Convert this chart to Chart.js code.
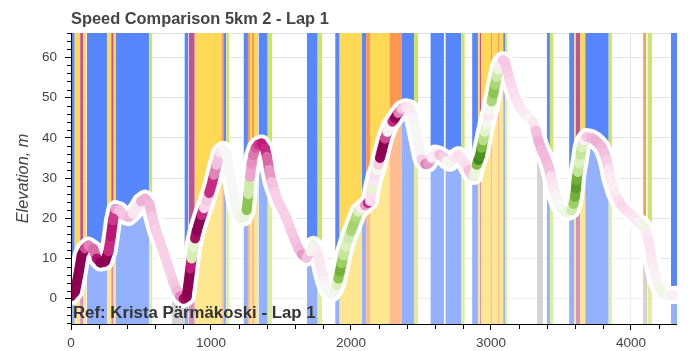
<!DOCTYPE html>
<html><head><meta charset="utf-8">
<script src="https://cdn.jsdelivr.net/npm/chart.js@4.4.1/dist/chart.umd.min.js"></script>
<style>html,body{margin:0;padding:0;background:#fff}</style>
</head><body>
<canvas id="c" width="691" height="351"></canvas>
<script>
// ---- data ----
const chartTitle = 'Speed Comparison 5km 2 - Lap 1';
const refLabel = 'Ref: Krista Pärmäkoski - Lap 1';
const yAxisTitle = 'Elevation, m';
const xTickValues = [0,1000,2000,3000,4000];
const yTickValues = [0,10,20,30,40,50,60];

const distance = [0,29,52,76,100,125,159,185,210,243,268,285,300,318,345,374,410,440,469,500,530,560,580,605,636,660,683,707,731,755,779,805,826,840,852,862,874,886,898,915,933,950,969,987,1005,1022,1040,1064,1085,1105,1120,1136,1155,1171,1190,1210,1235,1255,1267,1279,1290,1302,1320,1338,1360,1386,1400,1415,1433,1457,1481,1505,1529,1552,1576,1600,1624,1650,1683,1710,1731,1750,1767,1790,1808,1826,1845,1862,1880,1898,1910,1921,1933,1945,1963,1981,2000,2017,2035,2052,2075,2100,2120,2136,2148,2160,2171,2185,2195,2207,2219,2231,2243,2260,2279,2296,2314,2338,2362,2390,2421,2440,2457,2481,2505,2530,2552,2575,2600,2630,2660,2685,2707,2737,2767,2790,2814,2840,2862,2880,2898,2910,2921,2933,2945,2957,2969,2981,2993,3005,3017,3029,3040,3052,3064,3085,3100,3118,3136,3160,3183,3213,3243,3272,3302,3320,3338,3362,3386,3410,3428,3445,3462,3481,3505,3529,3555,3576,3590,3600,3607,3612,3620,3631,3640,3648,3665,3683,3715,3743,3768,3790,3810,3826,3840,3850,3868,3886,3910,3933,3963,3993,4022,4052,4078,4100,4112,4124,4136,4148,4165,4183,4205,4231,4260,4290,4329];
const elevation = [0.6,1.8,5.9,10.8,12.5,13.2,12.4,10.0,9.0,9.2,11.8,15.5,19.5,22.3,22.0,20.8,20.3,21.2,22.4,24.2,24.9,23.5,20.5,17.2,14.1,11.8,9.2,6.7,4.2,2.0,0.6,0.0,0.5,4.0,7.5,10.0,12.9,15.0,16.8,18.8,20.8,22.5,24.3,26.3,28.4,30.8,33.3,36.3,37.0,36.5,34.0,30.7,27.2,24.1,21.5,20.0,20.2,22.0,26.0,30.3,33.5,35.7,37.5,38.3,38.6,37.3,35.3,32.0,29.0,26.5,24.1,22.4,20.8,18.8,16.6,14.5,12.5,11.0,10.2,11.8,13.4,12.5,10.8,6.7,4.4,2.6,1.6,1.3,2.0,3.4,5.0,6.8,8.8,10.8,13.0,15.0,16.8,18.4,20.0,21.6,22.4,23.2,23.8,24.3,27.2,29.0,30.7,32.0,33.3,35.0,36.6,38.2,39.8,41.5,43.1,44.0,44.9,46.2,47.2,47.6,47.3,45.2,42.7,38.6,34.6,33.5,33.6,35.0,36.1,35.8,35.2,34.2,33.8,35.0,35.7,34.8,33.6,32.0,30.7,30.5,33.3,34.5,35.5,37.5,39.4,41.5,43.5,45.3,46.8,49.0,51.0,53.2,55.1,57.0,58.4,59.3,59.0,56.5,54.0,51.5,49.2,47.3,46.0,45.0,43.9,41.8,39.4,37.0,35.2,33.0,30.5,27.8,25.6,23.7,22.4,21.6,21.6,22.0,23.6,25.3,27.4,29.5,31.5,33.6,35.8,37.7,39.4,40.2,40.0,39.4,38.6,37.7,36.2,34.4,32.3,30.3,28.2,26.2,24.5,23.2,22.1,21.2,20.2,19.1,18.3,17.5,16.3,14.6,12.1,9.6,7.0,4.6,2.6,1.3,1.0,0.9,1.0];
// speed difference vs reference (-1 slower ... +1 faster)
const speedDelta = [-0.8,-0.8,-0.8,-0.9,-0.6,-0.4,-0.4,-0.5,-0.75,-0.85,-0.6,-0.5,-0.7,-0.35,-0.3,-0.2,-0.25,-0.3,0.1,-0.3,-0.3,-0.3,-0.25,-0.2,-0.2,-0.2,-0.2,-0.2,-0.2,-0.25,-0.3,-0.5,-0.8,-0.9,-0.8,-0.35,0.9,-0.5,-0.8,-0.75,-0.7,-0.4,0.05,-0.5,-0.6,-0.5,-0.3,-0.2,-0.05,0,0,0,0,0,0.05,0.05,0.1,0.2,0.9,-0.3,-0.35,-0.4,-0.45,-0.5,-0.55,-0.6,-0.5,-0.4,-0.3,-0.2,-0.2,-0.2,-0.2,-0.2,-0.2,-0.25,-0.25,-0.3,-0.4,-0.1,0.2,0,-0.1,-0.1,-0.05,0,0,0,0.05,0.1,0.4,0.7,0.6,0.4,0.3,0.2,0.4,0.5,0.45,0.4,0.1,-0.2,-0.5,-0.6,0.3,0.1,-0.3,0,0.1,-0.5,-0.9,-0.85,-0.7,-0.3,0.2,-0.2,-0.9,-0.5,-0.3,-0.15,-0.1,-0.05,0,0.05,-0.1,-0.3,-0.5,-0.2,0.1,-0.2,-0.3,-0.1,0.1,0,-0.15,-0.15,-0.1,-0.2,-0.3,-0.1,0.4,0.8,0.9,0.7,0.5,0.3,0.1,0,-0.2,0.3,0.6,0.5,0.4,0.2,0.05,-0.2,-0.25,-0.2,-0.2,-0.15,-0.15,-0.1,-0.1,-0.05,0,-0.2,-0.3,-0.3,-0.25,-0.3,-0.2,-0.1,-0.05,0,0,0.05,0.1,0.2,0.4,0.6,0.7,0.8,0.5,0.2,0.3,0.4,0.1,-0.2,-0.25,-0.3,-0.3,-0.3,-0.25,-0.25,-0.15,-0.1,-0.05,-0.05,-0.1,-0.2,-0.15,-0.15,-0.1,-0.1,0,0.2,0,-0.15,-0.1,-0.1,-0.05,-0.05,0,0.15,0.05,-0.05,-0.05];

// background segments (distance from, distance to, kind)
const bandStart = [2,26,66,86,114,257,288,305,319,557,721,812,841,884,1079,1093,1111,1234,1264,1279,1293,1307,1341,1405,1686,1762,1888,1919,2079,2107,2136,2276,2362,2450,2569,2676,2788,2866,2907,2921,2932,3000,3011,3050,3061,3088,3102,3329,3400,3421,3559,3595,3607,3638,3674,3841,4088,4095,4119,4286];
const bandEnd   = [26,66,86,109,257,288,305,316,557,579,814,836,884,1079,1093,1109,1129,1264,1279,1293,1307,1336,1405,1436,1762,1793,1919,2079,2107,2136,2276,2362,2450,2479,2664,2788,2812,2907,2921,2932,3000,3011,3050,3061,3088,3102,3116,3371,3421,3445,3595,3607,3638,3674,3841,3864,4107,4115,4150,4329];
const bandKind  = ['B','Y','M','Y','B','Y','M','Y','B','L','G','B','M','Y','O','B','L','B','O','Y','O','Y','B','L','B','L','B','Y','B','O','Y','O','B','L','B','B','L','B','Y','M','Y','O','Y','O','Y','B','L','G','B','L','B','Y','M','Y','B','L','O','G','L','B'];

// ---- styles ----
const BAND_COLORS = {B:'rgb(87,134,255)', Y:'rgb(255,217,85)', O:'rgb(255,150,82)', M:'rgb(190,85,152)', L:'rgb(204,230,100)', G:'rgb(212,212,212)'};
const PIYG = ['#8e0152','#c51b7d','#de77ae','#f1b6da','#fde0ef','#f7f7f7','#e6f5d0','#b8e186','#7fbc41','#4d9221','#276419'];
function hex(h){return [parseInt(h.slice(1,3),16),parseInt(h.slice(3,5),16),parseInt(h.slice(5,7),16)];}
function piyg(c){
  if(c<0) c*=1.4;
  const t=Math.max(0,Math.min(10,(c+1)*5)); const i=Math.min(9,Math.floor(t)); const f=t-i;
  const a=hex(PIYG[i]), b=hex(PIYG[i+1]);
  return 'rgb('+a.map((v,k)=>Math.round(v+(b[k]-v)*f)).join(',')+')';
}

const outlinePts = distance.map((d,i)=>({x:d,y:elevation[i]}));
const colorPts = distance.map((d,i)=>({x:d,y:elevation[i]}));

const bgPlugin = {
  id:'bg',
  beforeDatasetsDraw(chart){
    const {ctx, chartArea:a, scales:{x}} = chart;
    ctx.save();
    ctx.strokeStyle='#e5e5e5'; ctx.lineWidth=1;
    ctx.strokeRect(a.left+0.5, a.top+0.5, a.right-a.left-1, a.bottom-a.top);
    ctx.beginPath(); ctx.rect(a.left, a.top, a.right-a.left, a.bottom-a.top); ctx.clip();
    for(let i=0;i<bandStart.length;i++){
      if(bandKind[i]==='G') continue;
      const x0=x.getPixelForValue(bandStart[i]), x1=x.getPixelForValue(bandEnd[i]);
      ctx.fillStyle=BAND_COLORS[bandKind[i]];
      ctx.fillRect(x0, a.top, x1-x0, a.bottom-a.top);
    }
    const pts = chart.getDatasetMeta(0).data;
    ctx.beginPath(); ctx.moveTo(pts[0].x, a.bottom);
    pts.forEach(p=>ctx.lineTo(p.x,p.y));
    ctx.lineTo(pts[pts.length-1].x, a.bottom); ctx.closePath(); ctx.clip();
    ctx.fillStyle='rgba(255,255,255,0.36)';
    ctx.fillRect(a.left, a.top, a.right-a.left, a.bottom-a.top);
    for(let i=0;i<bandStart.length;i++){
      if(bandKind[i]!=='G') continue;
      const x0=x.getPixelForValue(bandStart[i]), x1=x.getPixelForValue(bandEnd[i]);
      ctx.fillStyle=BAND_COLORS.G;
      ctx.fillRect(x0, a.top, x1-x0, a.bottom-a.top);
    }
    ctx.restore();
  },
  afterDraw(chart){
    const {ctx, chartArea:a, scales:{x,y}} = chart;
    ctx.save();
    ctx.fillStyle='#000';
    ctx.fillRect(a.left, a.top, 1, a.bottom-a.top+1);
    ctx.fillRect(a.left, a.bottom, a.right-a.left, 1);
    for(let v=200; v<=x.max; v+=200){ if(v%1000===0) continue; const px=Math.round(x.getPixelForValue(v)); ctx.fillRect(px, a.bottom+1, 1, 4); }
    for(let v=-6; v<=y.max; v+=2){ if(v%10===0) continue; const py=Math.round(y.getPixelForValue(v)); ctx.fillRect(a.left-4, py, 4, 1); }
    ctx.fillStyle='#444';
    ctx.font='bold 16.4px "Liberation Sans", Arial, sans-serif';
    ctx.textBaseline='alphabetic'; ctx.textAlign='left';
    ctx.fillText(chartTitle, 71, 24);
    ctx.fillStyle='#333';
    ctx.font='bold 16.8px "Liberation Sans", Arial, sans-serif';
    ctx.fillText(refLabel, 73, 318);
    ctx.restore();
  }
};

new Chart(document.getElementById('c'), {
  type:'line',
  data:{datasets:[
    {data:outlinePts, order:2, borderColor:'#ffffff', borderWidth:18, pointRadius:0, tension:0, fill:false,
     borderCapStyle:'round', borderJoinStyle:'round', clip:0},
    {data:colorPts, order:1, borderColor:'#f7f7f7', borderWidth:10, pointRadius:0, tension:0, fill:false,
     borderCapStyle:'round', borderJoinStyle:'round', clip:0,
     segment:{borderColor: c => piyg((speedDelta[c.p0DataIndex]+speedDelta[c.p1DataIndex])/2)}}
  ]},
  options:{
    responsive:false, animation:false, devicePixelRatio:1,
    layout:{padding:{top:33,right:14,left:0,bottom:0}},
    plugins:{legend:{display:false}, tooltip:{enabled:false}, title:{display:false}},
    scales:{
      x:{type:'linear', min:0, max:4329,
        afterFit:s=>{s.height=27;},
        afterBuildTicks:s=>{s.ticks=xTickValues.map(v=>({value:v}));},
        border:{display:false},
        grid:{color:'#e5e5e5', tickColor:'#000', tickLength:6, drawTicks:true},
        ticks:{padding:5, color:'#444', maxRotation:0, autoSkip:false,
          font:{family:'"Liberation Sans", Arial, sans-serif', size:13.5}, callback:v=>String(v)}},
      y:{type:'linear', min:-6.28, max:66.05,
        afterFit:s=>{s.width=71;},
        afterBuildTicks:s=>{s.ticks=yTickValues.map(v=>({value:v}));},
        border:{display:false},
        title:{display:true, text:yAxisTitle, color:'#444', padding:{top:14,bottom:0},
          font:{family:'"Liberation Sans", Arial, sans-serif', size:16.3, style:'italic', weight:'normal'}},
        grid:{color:'#e5e5e5', tickColor:'#000', tickLength:6, drawTicks:true},
        ticks:{padding:8, color:'#444', autoSkip:false,
          font:{family:'"Liberation Sans", Arial, sans-serif', size:13.5}, callback:v=>String(v)}}
    }
  },
  plugins:[bgPlugin]
});
</script>
</body></html>
